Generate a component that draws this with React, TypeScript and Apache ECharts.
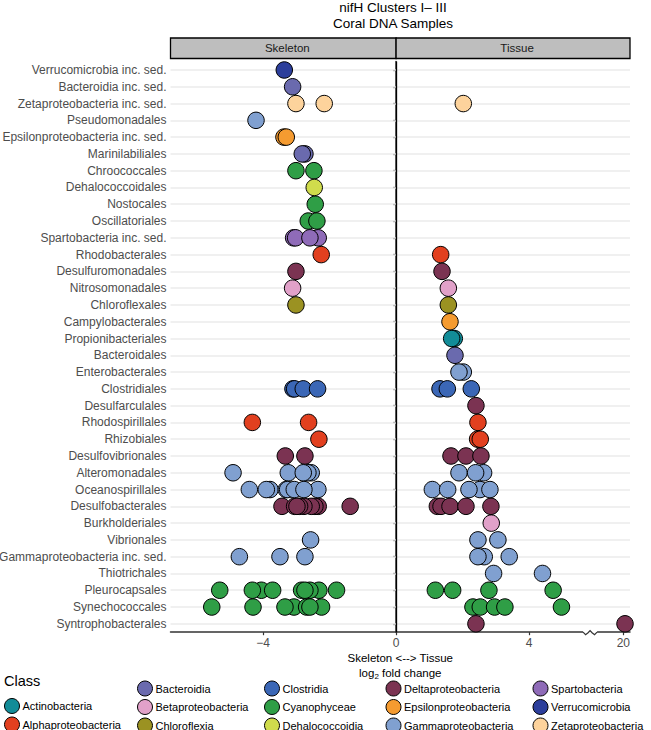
import React, { useEffect, useRef } from "react";
import * as echarts from "echarts";

const FONT = "'Liberation Sans', Arial, Helvetica, sans-serif";

// ---------- data ----------
const orders = [
  "Verrucomicrobia inc. sed.",
  "Bacteroidia inc. sed.",
  "Zetaproteobacteria inc. sed.",
  "Pseudomonadales",
  "Epsilonproteobacteria inc. sed.",
  "Marinilabiliales",
  "Chroococcales",
  "Dehalococcoidales",
  "Nostocales",
  "Oscillatoriales",
  "Spartobacteria inc. sed.",
  "Rhodobacterales",
  "Desulfuromonadales",
  "Nitrosomonadales",
  "Chloroflexales",
  "Campylobacterales",
  "Propionibacteriales",
  "Bacteroidales",
  "Enterobacterales",
  "Clostridiales",
  "Desulfarculales",
  "Rhodospirillales",
  "Rhizobiales",
  "Desulfovibrionales",
  "Alteromonadales",
  "Oceanospirillales",
  "Desulfobacterales",
  "Burkholderiales",
  "Vibrionales",
  "Gammaproteobacteria inc. sed.",
  "Thiotrichales",
  "Pleurocapsales",
  "Synechococcales",
  "Syntrophobacterales",
];

const orderClass = [
  "Verrucomicrobia", "Bacteroidia", "Zetaproteobacteria", "Gammaproteobacteria", "Epsilonproteobacteria",
  "Bacteroidia", "Cyanophyceae", "Dehalococcoidia", "Cyanophyceae", "Cyanophyceae",
  "Spartobacteria", "Alphaproteobacteria", "Deltaproteobacteria", "Betaproteobacteria", "Chloroflexia",
  "Epsilonproteobacteria", "Actinobacteria", "Bacteroidia", "Gammaproteobacteria", "Clostridia",
  "Deltaproteobacteria", "Alphaproteobacteria", "Alphaproteobacteria", "Deltaproteobacteria", "Gammaproteobacteria",
  "Gammaproteobacteria", "Deltaproteobacteria", "Betaproteobacteria", "Gammaproteobacteria", "Gammaproteobacteria",
  "Gammaproteobacteria", "Cyanophyceae", "Cyanophyceae", "Deltaproteobacteria",
];

// log2 fold change values (negative = enriched in skeleton)
const skeletonLFC: number[][] = [
  [-3.36],
  [-3.11],
  [-3.01, -2.16],
  [-4.21],
  [-3.37, -3.3],
  [-2.74, -2.82],
  [-3.01, -2.47],
  [-2.46],
  [-2.43],
  [-2.64, -2.38],
  [-2.34, -3.08, -3.02, -2.59],
  [-2.25],
  [-3.01],
  [-3.11],
  [-3.01],
  [],
  [],
  [],
  [],
  [-3.1, -3.05, -2.79, -2.36],
  [],
  [-4.32, -2.63],
  [-2.32],
  [-3.33, -2.74],
  [-4.9, -2.55, -2.65, -3.24, -2.79],
  [-4.41, -3.79, -3.9, -3.3, -3.26, -2.35, -3.06, -2.77],
  [-3.43, -2.34, -2.44, -2.55, -2.77, -3.05, -2.9, -2.98, -1.38],
  [],
  [-2.57],
  [-4.71, -3.49, -2.74],
  [],
  [-5.3, -4.05, -4.32, -3.71, -2.32, -2.59, -2.84, -2.74, -1.79],
  [-5.54, -4.3, -3.07, -3.34, -2.24, -2.69, -2.59],
  [],
];

// positive = enriched in tissue
const tissueLFC: number[][] = [
  [],
  [],
  [2.02],
  [],
  [],
  [],
  [],
  [],
  [],
  [],
  [],
  [1.34],
  [1.38],
  [1.57],
  [1.57],
  [1.62],
  [1.75, 1.67],
  [1.77],
  [2.02, 1.89],
  [1.32, 1.54, 2.26],
  [2.4],
  [2.46],
  [2.45, 2.53],
  [1.65, 2.1, 2.55],
  [1.89, 2.63, 2.39],
  [1.09, 1.55, 2.52, 2.19, 2.82],
  [1.24, 1.35, 1.62, 2.1, 2.85],
  [2.86],
  [2.46, 3.06],
  [2.65, 2.46, 3.4],
  [2.93, 4.4],
  [1.18, 1.7, 2.79, 4.72],
  [2.31, 2.53, 2.96, 3.27, 4.97],
  [2.4, 20.05],
];

const classes = [
  "Actinobacteria",
  "Alphaproteobacteria",
  "Bacteroidia",
  "Betaproteobacteria",
  "Chloroflexia",
  "Clostridia",
  "Cyanophyceae",
  "Dehalococcoidia",
  "Deltaproteobacteria",
  "Epsilonproteobacteria",
  "Gammaproteobacteria",
  "Spartobacteria",
  "Verrucomicrobia",
  "Zetaproteobacteria",
];

const classColors = [
  "#128c98",
  "#e2401f",
  "#6a6aae",
  "#e1a1c9",
  "#9b9222",
  "#3b67b6",
  "#2f9e46",
  "#d0dc4c",
  "#7b3352",
  "#f59b30",
  "#80a0d0",
  "#8f6bb8",
  "#2c3e9b",
  "#fdd39c",
];

const xTickValues = [-4, 0, 4, 20];
const facetNames = ["Skeleton", "Tissue"];

// ---------- axis break (values above BREAK_LOW are shifted so 20 sits at BREAK_AT) ----------
const BREAK_LOW = 6;
const BREAK_HIGH = 20;
const BREAK_AT = 6.83;
const BREAK_MARK = 5.83;
const toAxis = (v: number) => (v > BREAK_LOW ? BREAK_AT + (v - BREAK_HIGH) : v);

// ---------- layout ----------
const X_MIN = -6.78;
const X_MAX = 7.03;
const GRID = { left: 170.5, right: 21, top: 61.6, bottom: 97.8 };
const STRIP_TOP = 38;
const STRIP_H = 20.5;
const LEG_LEFT = [4, 137, 264, 385.5, 532.5];
const LEG_ROW0 = 680.5;
const LEG_PITCH = 17.5;

const mappedTicks = xTickValues.map(toAxis);
const fmtTick = (v: number) => {
  const i = mappedTicks.findIndex((t) => Math.abs(t - v) < 1e-6);
  if (i < 0) return "";
  const n = xTickValues[i];
  return n < 0 ? "\u2212" + Math.abs(n) : String(n);
};

function buildOption(): any {
  const dataSeries = classes.map((cls, ci) => {
    const pts: any[] = [];
    orders.forEach((o, oi) => {
      if (orderClass[oi] !== cls) return;
      skeletonLFC[oi].forEach((v) => pts.push([toAxis(v), o]));
      tissueLFC[oi].forEach((v) => pts.push([toAxis(v), o]));
    });
    return {
      type: "scatter",
      name: cls,
      z: 10,
      symbol: "circle",
      symbolSize: 16.5,
      emphasis: { disabled: true },
      itemStyle: { color: classColors[ci], borderColor: "#000", borderWidth: 1, opacity: 1 },
      data: pts,
    };
  });

  const gridSeries = {
    type: "scatter",
    name: "_grid",
    z: 1,
    silent: true,
    data: [],
    markLine: {
      z: 1,
      silent: true,
      symbol: ["none", "none"],
      label: { show: false },
      lineStyle: { color: "#ebebeb", width: 1.6, type: "solid" },
      emphasis: { disabled: true },
      data: orders.map((o) => ({ yAxis: o })),
    },
  };
  const zeroSeries = {
    type: "scatter",
    name: "_zero",
    z: 2,
    silent: true,
    data: [],
    markLine: {
      z: 2,
      silent: true,
      symbol: ["none", "none"],
      label: { show: false },
      lineStyle: { color: "#000", width: 1.3, type: "solid" },
      emphasis: { disabled: true },
      data: [{ xAxis: 0 }],
    },
  };

  const legends = LEG_LEFT.map((left, c) => {
    const items = classes.filter((_, i) => Math.floor((i + 1) / 3) === c);
    const firstRow = c === 0 ? 1 : 0;
    return {
      type: "plain",
      orient: "vertical",
      left,
      top: LEG_ROW0 + firstRow * LEG_PITCH,
      width: 140,
      height: 80,
      padding: 0,
      itemGap: LEG_PITCH - 15,
      itemWidth: 15,
      itemHeight: 15,
      icon: "circle",
      selectedMode: false,
      itemStyle: { borderColor: "#000", borderWidth: 1 },
      textStyle: { fontSize: 11, color: "#000", fontFamily: FONT, padding: [0, 0, 0, -2] },
      data: items,
    };
  });

  return {
    animation: false,
    backgroundColor: "#fff",
    textStyle: { fontFamily: FONT },
    title: [
      {
        text: "nifH Clusters I\u2013 III\nCoral DNA Samples",
        left: 393,
        top: -1,
        textAlign: "center",
        padding: 0,
        textStyle: { fontSize: 13.5, fontWeight: "normal", color: "#000", lineHeight: 16, fontFamily: FONT },
      },
      {
        text: "Class",
        left: 4,
        top: 673,
        padding: 0,
        textStyle: { fontSize: 14.5, fontWeight: "normal", color: "#000", fontFamily: FONT },
      },
    ],
    legend: legends,
    grid: { ...GRID, containLabel: false, outerBoundsMode: "none" },
    xAxis: {
      type: "value",
      min: X_MIN,
      max: X_MAX,
      axisLine: { show: true, onZero: false, lineStyle: { color: "#333", width: 1.5 } },
      axisTick: { show: true, length: 3, customValues: mappedTicks, lineStyle: { color: "#333", width: 1.2 } },
      axisLabel: {
        customValues: mappedTicks,
        formatter: (v: number) => fmtTick(v),
        color: "#4d4d4d",
        fontSize: 12,
        margin: 5,
        fontFamily: FONT,
      },
      splitLine: { show: false },
      name: "Skeleton <--> Tissue\nlog{sub|2} fold change",
      nameLocation: "middle",
      nameGap: 18,
      nameMoveOverlap: false,
      nameTextStyle: {
        fontSize: 11.5,
        color: "#000",
        lineHeight: 15,
        fontFamily: FONT,
        rich: { sub: { fontSize: 8, lineHeight: 8, verticalAlign: "bottom", fontFamily: FONT, color: "#000" } },
      },
    },
    yAxis: {
      type: "category",
      inverse: true,
      data: orders,
      axisLine: { show: true, lineStyle: { color: "#333", width: 1.5 } },
      axisTick: { show: true, length: 3, alignWithLabel: true, lineStyle: { color: "#333", width: 1.2 } },
      axisLabel: { color: "#4d4d4d", fontSize: 12, margin: 4, fontFamily: FONT, interval: 0 },
      splitLine: { show: false },
    },
    series: [gridSeries, zeroSeries, ...dataSeries],
  };
}

export default function App() {
  const ref = useRef<HTMLDivElement>(null);
  useEffect(() => {
    document.body.style.margin = "0";
    const chart = echarts.init(ref.current!, null, { renderer: "svg" });
    chart.setOption(buildOption());

    const px = (v: number) => chart.convertToPixel({ xAxisIndex: 0 }, v) as number;
    const gl = px(X_MIN);
    const gr = px(X_MAX);
    const g0 = px(0);
    const ay = 730 - GRID.bottom;
    const bx = px(BREAK_MARK);
    const strips = [
      [gl, g0],
      [g0, gr],
    ];
    const graphic: any[] = [];
    strips.forEach(([a, b]) => {
      graphic.push({
        type: "rect",
        z: 100,
        shape: { x: a, y: STRIP_TOP, width: b - a, height: STRIP_H },
        style: { fill: "#bebebe", stroke: "#000", lineWidth: 1.3 },
      });
    });
    strips.forEach(([a, b], i) => {
      graphic.push({
        type: "text",
        z: 101,
        x: (a + b) / 2 + 4,
        y: STRIP_TOP + STRIP_H / 2,
        style: {
          text: facetNames[i],
          align: "center",
          verticalAlign: "middle",
          fontSize: 11.5,
          fill: "#1a1a1a",
          fontFamily: FONT,
        },
      });
    });
    graphic.push({
      type: "rect",
      z: 100,
      shape: { x: bx - 7, y: ay - 2.2, width: 14, height: 4.4 },
      style: { fill: "#fff" },
    });
    graphic.push({
      type: "polyline",
      z: 101,
      shape: {
        points: [
          [bx - 7, ay],
          [bx - 4.5, ay + 2.5],
          [bx - 2, ay + 0.5],
          [bx, ay - 1.5],
          [bx + 2, ay + 0.5],
          [bx + 4.5, ay + 2.5],
          [bx + 7, ay],
        ],
      },
      style: { stroke: "#333", lineWidth: 1.2, fill: null },
    });
    chart.setOption({ graphic });
    return () => chart.dispose();
  }, []);
  return <div ref={ref} style={{ position: "absolute", left: 0, top: 0, width: 651, height: 730 }} />;
}
